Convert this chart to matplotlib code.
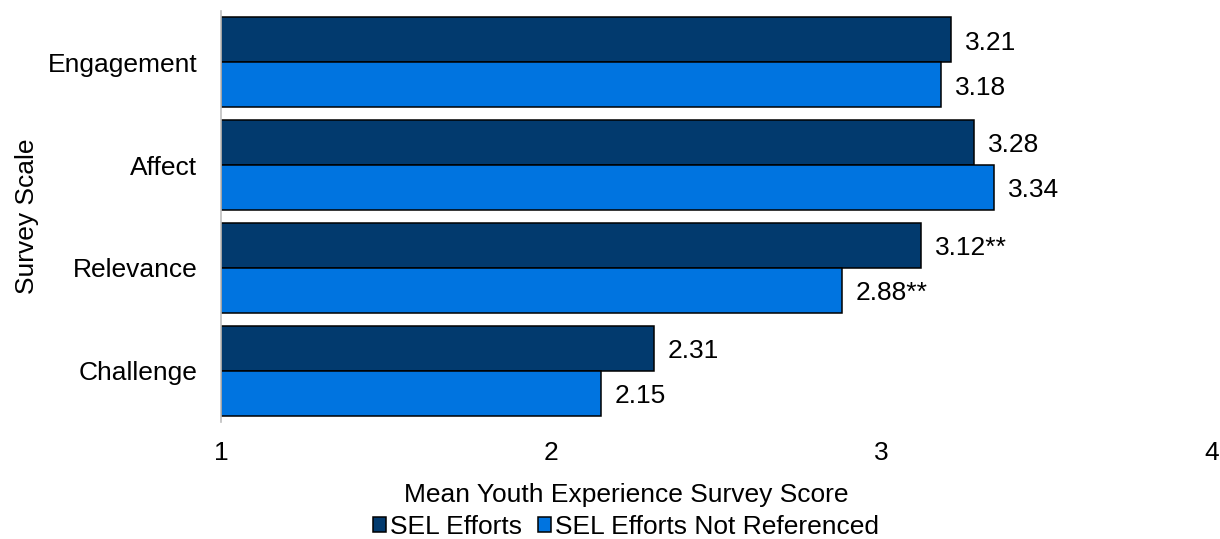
import matplotlib
matplotlib.use("Agg")
import matplotlib.pyplot as plt
import numpy as np
from matplotlib.patches import Patch

plt.rcParams['font.family'] = ['Liberation Sans', 'DejaVu Sans']

categories = ["Engagement", "Affect", "Relevance", "Challenge"]
sel_efforts = [3.21, 3.28, 3.12, 2.31]
sel_not_ref = [3.18, 3.34, 2.88, 2.15]
sel_labels = ["3.21", "3.28", "3.12**", "2.31"]
not_labels = ["3.18", "3.34", "2.88**", "2.15"]
series_names = ["SEL Efforts", "SEL Efforts Not Referenced"]
xticks = [1, 2, 3, 4]

dark = "#023A6E"
light = "#0074E0"
fs = 19

fig = plt.figure(figsize=(12.2, 5.39), dpi=100)
ax = fig.add_axes([0.1811, 0.2171, 0.8123, 0.7625])

y = np.arange(len(categories))
h = 0.437
base = 1
b1 = ax.barh(y - h / 2, np.array(sel_efforts) - base, left=base, height=h,
             color=dark, edgecolor="black", linewidth=1.1)
b2 = ax.barh(y + h / 2, np.array(sel_not_ref) - base, left=base, height=h,
             color=light, edgecolor="black", linewidth=1.1)

for bars, vals, labs in [(b1, sel_efforts, sel_labels), (b2, sel_not_ref, not_labels)]:
    for rect, v, lab in zip(bars, vals, labs):
        ax.annotate(lab, (v, rect.get_y() + rect.get_height() / 2),
                    xytext=(10, -2), textcoords="offset points",
                    va="center", ha="left", fontsize=fs)

ax.set_xlim(1, 4)
ax.set_ylim(len(categories) - 0.5, -0.5)
ax.set_yticks(y)
ax.set_yticklabels(categories, fontsize=fs)
ax.set_xticks(xticks)
ax.set_xticklabels([str(t) for t in xticks], fontsize=fs)
ax.tick_params(axis="both", length=0)
ax.tick_params(axis="y", pad=17)
ax.tick_params(axis="x", pad=14)
for s in ["top", "right", "bottom"]:
    ax.spines[s].set_visible(False)
ax.spines["left"].set_color("#BFBFBF")
ax.spines["left"].set_linewidth(1.2)

ax.set_xlabel("Mean Youth Experience Survey Score", fontsize=fs)
ax.xaxis.set_label_coords(0.409, -0.177)
ax.xaxis.label.set_va("center")
ax.set_ylabel("Survey Scale", fontsize=fs, labelpad=6)

handles = [Patch(facecolor=dark, edgecolor="black", linewidth=1.1),
           Patch(facecolor=light, edgecolor="black", linewidth=1.1)]
fig.legend(handles, series_names, loc="center", bbox_to_anchor=(0.513, 0.022),
           ncol=2, frameon=False, fontsize=fs, handlelength=0.5, handleheight=0.5,
           handletextpad=0.15, columnspacing=0.6, borderpad=0)

fig.savefig("out.png", dpi=100)
